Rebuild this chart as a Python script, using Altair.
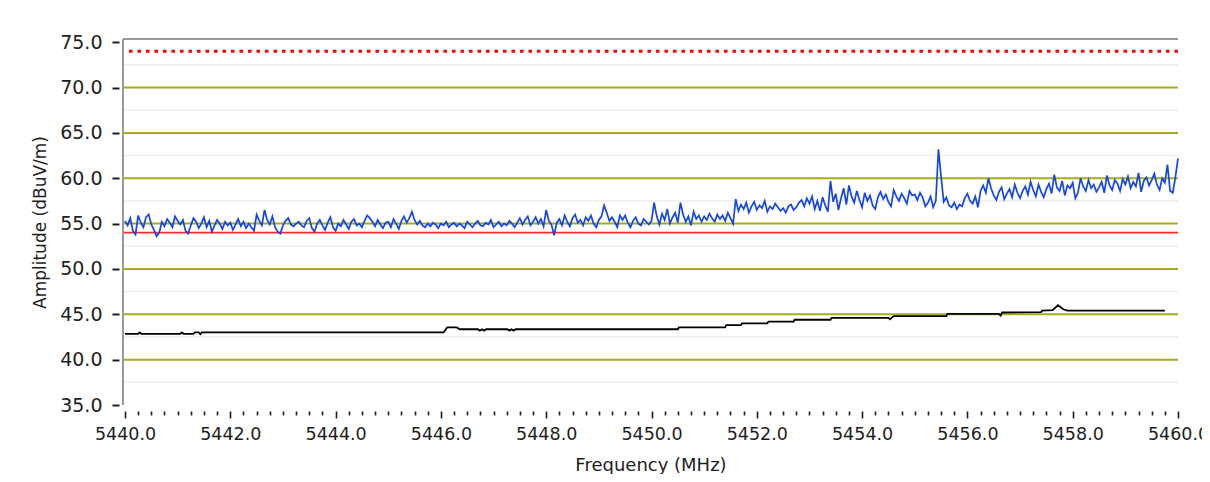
import altair as alt
import pandas as pd

# ---------------- data ----------------
FREQ_START = 5440.0
FREQ_STEP = 0.05
X_MIN, X_MAX = 5439.962, 5460.0
Y_MIN, Y_MAX = 35.0, 75.35

# blue trace (peak detector), 0.05 MHz spacing
blue_a = [55.3, 54.8, 55.6, 54.2, 53.8, 55.9, 55.1, 54.6, 55.7, 56.0,
          54.9, 54.3, 53.6, 54.0, 55.2, 54.7, 55.5, 55.1, 54.6, 55.8,
          55.3, 54.9, 55.4, 54.2, 53.9, 54.8, 55.6, 55.2, 54.5, 55.0,
          55.7, 54.6, 55.3, 54.1, 54.8, 55.4, 55.0, 54.4, 55.2, 54.8,
          55.1, 54.3, 54.9, 55.5, 54.7, 55.2, 54.5, 55.0, 54.6, 54.2,
          56.0, 55.3, 54.8, 56.5, 55.4, 54.9, 55.8, 54.6, 54.1, 53.9,
          54.8, 55.3, 55.6, 54.9, 54.7, 55.0, 55.2, 54.8, 54.6, 55.3,
          55.6, 54.5, 54.1, 55.0, 55.4, 54.8, 54.3, 55.1, 55.7, 54.6,
          54.2, 55.0, 54.7, 55.4, 54.9, 54.4, 55.2, 55.5, 54.8, 55.0,
          54.6, 55.3, 55.9, 55.6, 55.2, 54.7, 55.4, 54.9, 54.5, 55.1]
blue_b = [55.2, 54.6, 55.5, 55.0, 54.4, 55.3, 55.8, 55.1, 55.6, 56.3,
          55.4, 54.9, 55.3, 54.8, 54.6, 55.0, 54.7, 55.1, 54.9, 54.5,
          55.0, 54.8, 55.2, 54.6, 54.9, 55.1, 54.7, 55.0, 54.8, 54.5,
          55.2, 54.9, 54.6, 55.0, 55.3, 54.8, 54.7, 55.1, 54.9, 55.4,
          54.6, 54.9, 55.2, 54.7, 55.0, 54.8, 55.3, 55.0, 54.6, 55.1,
          55.6, 54.9, 55.4, 55.8, 54.8, 55.2, 55.7, 55.0, 55.5, 54.7,
          56.5, 55.3, 54.9, 53.7, 55.1, 55.5, 54.8, 55.9, 55.2, 54.7,
          55.6, 56.0, 55.1, 55.4, 54.8, 55.7, 55.3, 55.9, 55.0, 54.6,
          55.4, 55.8, 57.0, 56.2, 55.3, 55.7, 55.2, 54.6, 55.9, 55.4,
          55.9, 55.1, 54.6, 55.3, 55.7, 55.0, 54.8, 55.5, 55.2, 54.9]
blue_c = [55.3, 57.3, 55.8, 54.9, 56.1, 55.4, 56.6, 55.0, 55.7, 56.2,
          55.1, 57.3, 56.0, 55.2, 55.8, 54.8, 56.3, 55.5, 55.9, 55.2,
          55.8, 55.4, 56.1, 55.6, 55.2, 56.0, 55.5, 55.9, 55.3, 56.2,
          55.6, 55.0, 57.7, 56.4, 57.1, 56.6, 57.3, 56.2, 56.9, 57.4,
          56.5, 57.0, 56.7, 57.5, 56.3, 56.9, 56.6, 57.2, 56.8, 56.4,
          56.7, 56.2, 56.9, 57.1, 56.5, 56.8, 57.3, 57.6, 56.9, 57.8,
          57.2, 58.0, 56.6, 57.5, 56.4, 57.9, 57.0, 56.3, 59.7, 57.4,
          58.3, 56.5, 57.8, 58.9, 57.1, 59.2, 58.0, 57.3, 58.6, 57.6,
          56.8, 58.4, 57.5, 58.1, 57.0, 56.6, 57.9, 58.5, 57.7, 58.2,
          57.4, 56.9, 58.7, 58.0, 57.5, 58.3, 57.8, 57.2, 58.6, 58.1]
blue_d = [58.2, 57.6, 58.4, 57.9, 56.9, 57.3, 58.0, 56.8, 57.5, 63.2,
          60.2, 57.4, 57.9, 57.0, 56.8, 57.3, 56.6, 57.1, 56.9, 57.8,
          58.3, 57.5, 57.2, 58.0, 56.8, 58.6, 59.2, 58.4, 60.0, 58.9,
          58.1, 57.6, 58.5, 59.0, 57.7, 58.3, 58.8, 57.9, 59.3, 58.4,
          57.8, 58.6, 59.1, 58.2, 59.6, 58.7, 58.0, 59.3, 58.5, 57.9,
          58.8, 59.4, 58.3, 60.4, 59.0, 58.6, 59.7, 58.1, 59.2, 58.9,
          59.5, 57.8, 58.4, 60.0, 59.1, 58.6, 59.8, 58.9, 59.3, 58.5,
          59.0, 59.6, 58.4, 60.3, 59.2, 58.7, 59.8, 59.4, 58.6, 59.9,
          59.3, 60.2, 58.9, 59.6, 59.1, 60.6, 58.5, 59.7, 60.1, 59.2,
          59.8, 60.5, 59.3, 58.7, 60.0, 59.5, 61.5, 58.6, 58.4, 60.1]
blue_end = [62.2]

# black trace (average detector), breakpoints
black_freq = [5440.00, 5440.25, 5440.28, 5440.31, 5441.05, 5441.08, 5441.11, 5441.30,
              5441.33, 5441.40, 5441.43, 5441.46, 5446.05, 5446.12, 5446.30, 5446.36,
              5446.70, 5446.74, 5446.78, 5446.82, 5446.86, 5447.26, 5447.30, 5447.34,
              5447.38, 5447.42, 5450.50, 5450.52, 5451.40, 5451.42, 5451.70, 5451.72,
              5452.20, 5452.22, 5452.70, 5452.72, 5453.40, 5453.42, 5454.50, 5454.53,
              5454.56, 5454.60, 5455.60, 5455.62, 5456.60, 5456.63, 5456.66, 5457.40,
              5457.42, 5457.62, 5457.72, 5457.82, 5457.90, 5459.75]
black_vals = [42.85, 42.85, 43.0, 42.85, 42.85, 43.0, 42.85, 42.85,
              43.0, 43.0, 42.8, 43.0, 43.0, 43.55, 43.55, 43.35,
              43.35, 43.2, 43.35, 43.2, 43.35, 43.35, 43.2, 43.35,
              43.2, 43.35, 43.35, 43.55, 43.55, 43.8, 43.8, 44.0,
              44.0, 44.2, 44.2, 44.4, 44.4, 44.6, 44.6, 44.45,
              44.6, 44.8, 44.8, 45.05, 45.05, 44.85, 45.2, 45.25,
              45.4, 45.45, 46.0, 45.55, 45.4, 45.4]

limit_peak = [74.0]
limit_avg = [54.0]
major_grid = [40.0, 45.0, 50.0, 55.0, 60.0, 65.0, 70.0]
minor_grid = [37.5, 42.5, 47.5, 52.5, 57.5, 62.5, 67.5, 72.5]
y_ticks = [35.0, 40.0, 45.0, 50.0, 55.0, 60.0, 65.0, 70.0, 75.0]
x_ticks = [5440.0 + 0.25 * i for i in range(81)]

# ---------------- tables ----------------
blue_vals = blue_a + blue_b + blue_c + blue_d + blue_end
blue_df = pd.DataFrame({
    "freq": [round(FREQ_START + i * FREQ_STEP, 2) for i in range(len(blue_vals))],
    "dB": blue_vals,
})
black_df = pd.DataFrame({"freq": black_freq, "dB": black_vals})
major_df = pd.DataFrame({"dB": major_grid})
minor_df = pd.DataFrame({"dB": minor_grid})
peak_df = pd.DataFrame({"dB": limit_peak})
avg_df = pd.DataFrame({"dB": limit_avg})
top_df = pd.DataFrame({"dB": [Y_MAX]})
left_df = pd.DataFrame({"freq": [X_MIN]})

FONT = "DejaVu Sans"
TXT = "#1e1e1e"

x_scale = alt.Scale(domain=[X_MIN, X_MAX], nice=False, zero=False)
y_scale = alt.Scale(domain=[Y_MIN, Y_MAX], nice=False, zero=False)

x_axis = alt.Axis(
    values=x_ticks,
    labelExpr="datum.value % 2 === 0 ? format(datum.value, '.1f') : ''",
    domain=False, grid=False, offset=6,
    tickSize={"condition": {"test": "datum.value % 2 === 0", "value": 7}, "value": 4},
    tickWidth=1.6, tickColor=TXT,
    labelFont=FONT, labelFontSize=17.5, labelColor=TXT, labelPadding=7,
    labelFlush=False, labelOverlap=False,
    title="Frequency (MHz)", titleFont=FONT, titleFontSize=18,
    titleFontWeight="normal", titleColor=TXT, titlePadding=14,
)
y_axis = alt.Axis(
    values=y_ticks, format=".1f",
    domain=False, grid=False, offset=4,
    tickSize=7, tickWidth=2, tickColor=TXT,
    labelFont=FONT, labelFontSize=19, labelColor=TXT, labelPadding=10,
    title="Amplitude (dBuV/m)", titleFont=FONT, titleFontSize=17,
    titleFontWeight="normal", titleColor=TXT, titlePadding=10,
)

X = alt.X("freq:Q", scale=x_scale, axis=x_axis, title="Frequency (MHz)")
Y = alt.Y("dB:Q", scale=y_scale, axis=y_axis, title="Amplitude (dBuV/m)")

minor_layer = alt.Chart(minor_df).mark_rule(color="#ededed", strokeWidth=1.5).encode(y=Y)
major_layer = alt.Chart(major_df).mark_rule(color="#aaaa1e", strokeWidth=2).encode(y=Y)
peak_layer = alt.Chart(peak_df).mark_rule(color="#ff0000", strokeWidth=3, strokeDash=[3.5, 5]).encode(y=Y)
avg_layer = alt.Chart(avg_df).mark_rule(color="#ff2a2a", strokeWidth=1.6).encode(y=Y)
black_layer = alt.Chart(black_df).mark_line(color="#000000", strokeWidth=1.8).encode(x=X, y=Y)
blue_layer = alt.Chart(blue_df).mark_line(color="#1446e6", strokeWidth=1.7).encode(x=X, y=Y)
top_layer = alt.Chart(top_df).mark_rule(color="#9a9a9a", strokeWidth=2).encode(y=Y)
left_layer = alt.Chart(left_df).mark_rule(color="#9a9a9a", strokeWidth=2).encode(x=X)

chart = alt.layer(
    minor_layer, major_layer, peak_layer, avg_layer, black_layer, blue_layer, top_layer, left_layer
).properties(
    width=1055, height=366,
    padding={"left": 115, "top": 31, "right": 24, "bottom": 69},
    autosize=alt.AutoSizeParams(type="none"),
).configure_view(stroke=None)

chart.save("out.html", embed_options={"renderer": "svg", "actions": False})
